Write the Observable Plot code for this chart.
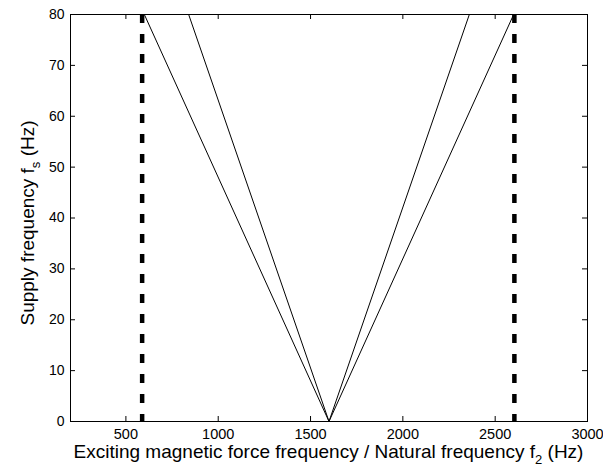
<!DOCTYPE html>
<html>
<head>
<meta charset="utf-8">
<script src="https://cdn.jsdelivr.net/npm/d3@7"></script>
<script src="https://cdn.jsdelivr.net/npm/@observablehq/plot@0.6"></script>
<style>
  html, body { margin: 0; padding: 0; background: #fff; }
  #chart svg { display: block; }
</style>
</head>
<body>
<div id="chart"></div>
<script>
// ---- data ----
const supplyRange = [0, 80];                 // supply frequency fs (Hz)
const vertexFreq = 1600;                     // lines meet at fs = 0
const lineTopFreqs = [600, 840, 2360, 2600]; // frequency of each line at fs = 80
const dashedFreqs = [588, 2604];             // natural frequencies (dashed verticals)
const xTicks = [500, 1000, 1500, 2000, 2500, 3000];
const yTicks = [0, 10, 20, 30, 40, 50, 60, 70, 80];
const xDomain = [200, 3000];

const lines = lineTopFreqs.flatMap((f, i) => [
  {id: i, x: vertexFreq, y: supplyRange[0]},
  {id: i, x: f, y: supplyRange[1]}
]);

const W = 603, H = 470;
const mL = 70, mR = 16, mT = 14, mB = 49;
const innerH = H - mT - mB, innerW = W - mL - mR;
const tick = 5;
const ff = "'Liberation Sans', Arial, sans-serif";

const chart = Plot.plot({
  width: W, height: H,
  marginLeft: mL, marginRight: mR, marginTop: mT, marginBottom: mB,
  style: {fontFamily: ff, fontSize: "14px", color: "#000", background: "#fff", overflow: "visible"},
  x: {domain: xDomain, ticks: xTicks},
  y: {domain: supplyRange, ticks: yTicks},
  marks: [
    Plot.ruleX(dashedFreqs, {x: d => d, y1: supplyRange[1], y2: supplyRange[0], stroke: "#000", strokeWidth: 4.5, strokeDasharray: "9,11"}),
    Plot.line(lines, {x: "x", y: "y", z: "id", stroke: "#000", strokeWidth: 1}),
    // inward tick marks on all four sides
    Plot.tickX(xTicks, {x: d => d, insetTop: innerH - tick, stroke: "#000"}),
    Plot.tickX(xTicks, {x: d => d, insetBottom: innerH - tick, stroke: "#000"}),
    Plot.tickY(yTicks, {y: d => d, insetRight: innerW - tick, stroke: "#000"}),
    Plot.tickY(yTicks, {y: d => d, insetLeft: innerW - tick, stroke: "#000"}),
    Plot.axisX(xTicks, {tickSize: 0, tickPadding: 7, label: null, fontSize: 14.5, tickFormat: d => String(d)}),
    Plot.axisY(yTicks, {tickSize: 0, tickPadding: 6, label: null, fontSize: 14, tickFormat: d => String(d)}),
    Plot.frame({stroke: "#000", strokeWidth: 1})
  ]
});

document.getElementById("chart").appendChild(chart);

// axis titles with subscripts
const svg = d3.select(chart);
const xt = svg.append("text")
  .attr("x", mL + innerW / 2).attr("y", 458)
  .attr("text-anchor", "middle").attr("font-family", ff).attr("font-size", 19).attr("fill", "#000");
xt.append("tspan").text("Exciting magnetic force frequency / Natural frequency f");
xt.append("tspan").attr("dy", 6).attr("font-size", 13).text("2");
xt.append("tspan").attr("dy", -6).text(" (Hz)");

const yt = svg.append("text")
  .attr("transform", `translate(34,223) rotate(-90)`)
  .attr("text-anchor", "middle").attr("font-family", ff).attr("font-size", 19).attr("fill", "#000");
yt.append("tspan").text("Supply frequency f");
yt.append("tspan").attr("dy", 6).attr("font-size", 13).text("s");
yt.append("tspan").attr("dy", -6).text(" (Hz)");
</script>
</body>
</html>
